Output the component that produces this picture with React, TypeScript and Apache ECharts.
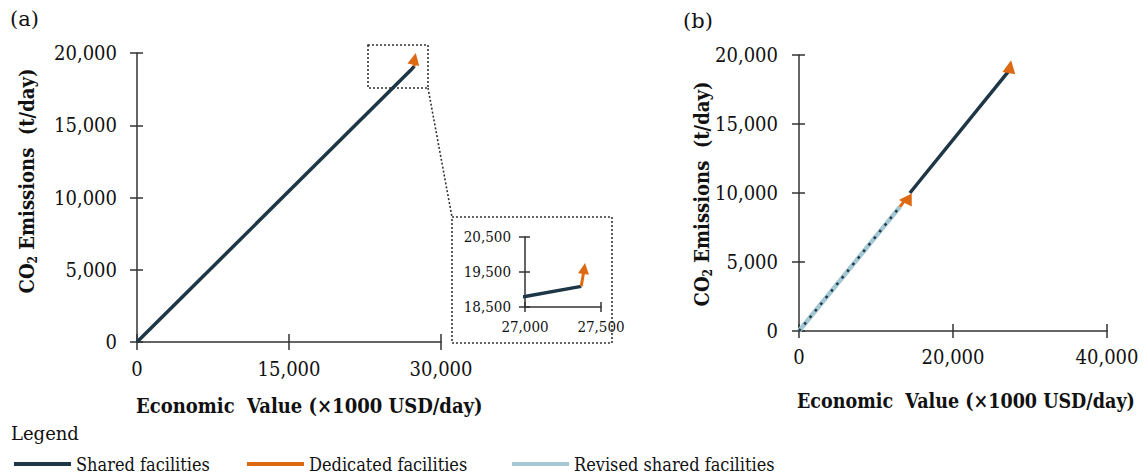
import React, { useEffect, useRef } from "react";
import * as echarts from "echarts";

const FONT = "DejaVu Serif";
const FONT_C = "DejaVu Serif Condensed";

// Panel (a) data (also used by the inset)
const sharedA: [number, number][] = [[0, 0], [27000, 18800], [27370, 19090]];
const dedicatedA: [number, number][] = [[27370, 19090], [27390, 19600]];

// Panel (b) data
const revisedB: [number, number][] = [[0, 0], [13100, 9000]];
const dedicatedB1: [number, number][] = [[13100, 9000], [13800, 9500]];
const sharedB: [number, number][] = [[14400, 10000], [27150, 18770]];
const dedicatedB2: [number, number][] = [[27150, 18770], [27400, 19150]];

// Axis ranges / ticks
const axisA_x = { min: 0, max: 30000, interval: 15000 };
const axisA_y = { min: 0, max: 20000, interval: 5000 };
const axisInset_x = { min: 27000, max: 27500, interval: 500 };
const axisInset_y = { min: 18500, max: 20500, interval: 1000 };
const axisB_x = { min: 0, max: 40000, interval: 20000 };
const axisB_y = { min: 0, max: 20000, interval: 5000 };

const legendNames = ["Shared facilities", "Dedicated facilities", "Revised shared facilities"];

const C_DARK = "#1e3646";
const C_ORANGE = "#dd6a12";
const C_LIGHT = "#a3c7d3";
const C_AXIS = "#333333";

const fmt = (v: number) => v.toLocaleString("en-US");

function mkAxis(
  grid: number,
  r: { min: number; max: number; interval: number },
  dir: "x" | "y",
  fontSize: number,
  margin: number,
  tickLen: number,
  inner: boolean
) {
  const base: any = {
    type: "value",
    gridIndex: grid,
    min: r.min,
    max: r.max,
    interval: r.interval,
    position: dir === "x" ? "bottom" : "left",
    splitLine: { show: false },
    axisLine: { show: !inner, onZero: false, lineStyle: { color: C_AXIS, width: 1.5 } },
    axisTick: { show: true, inside: inner, length: tickLen, lineStyle: { color: C_AXIS, width: 1.5 } },
    axisLabel: {
      show: !inner,
      margin,
      fontSize,
      fontFamily: FONT_C,
      color: "#111",
      formatter: fmt,
    },
  };
  return base;
}

function lineSeries(name: string, data: [number, number][], idx: number, color: string, width: number, extra: any = {}) {
  return {
    type: "line",
    name,
    xAxisIndex: idx,
    yAxisIndex: idx,
    data,
    color,
    showSymbol: false,
    symbol: "none",
    lineStyle: { color, width },
    silent: true,
    ...extra,
  };
}

function arrowSeries(data: [number, number][], idx: number, rot: number, size: number, width: number) {
  const pts = data.map((p, i) =>
    i === data.length - 1
      ? { value: p, symbol: "triangle", symbolSize: size, symbolRotate: rot }
      : { value: p, symbol: "none" }
  );
  return {
    type: "line",
    name: "Dedicated facilities",
    xAxisIndex: idx,
    yAxisIndex: idx,
    data: pts,
    color: C_ORANGE,
    showSymbol: true,
    itemStyle: { color: C_ORANGE },
    lineStyle: { color: C_ORANGE, width },
    silent: true,
    z: 5,
  };
}

export default function App() {
  const ref = useRef<HTMLDivElement>(null);
  useEffect(() => {
    if (!ref.current) return;
    const chart = echarts.init(ref.current, undefined, { renderer: "svg" });
    const titleRich = (fs: number) => ({
      a: { fontSize: fs, fontWeight: "bold", fontFamily: FONT_C, fill: "#111", lineHeight: fs + 4 },
      s: { fontSize: Math.round(fs * 0.6), fontWeight: "bold", fontFamily: FONT_C, fill: "#111", verticalAlign: "bottom", lineHeight: fs + 4, padding: [Math.round(fs * 0.45), 0, 0, 0] },
    });
    const txt = (text: string, x: number, y: number, fs: number, fam: string, extra: any = {}) => ({
      type: "text",
      x,
      y,
      style: { text, fontSize: fs, fontFamily: fam, fill: "#111", verticalAlign: "middle", ...extra },
    });
    const option: any = {
      animation: false,
      backgroundColor: "#ffffff",
      textStyle: { fontFamily: FONT_C },
      grid: [
        { left: 137, top: 53, width: 304, height: 289 },
        { left: 525, top: 237, width: 76, height: 70 },
        { left: 799, top: 55, width: 308, height: 276 },
      ],
      xAxis: [
        mkAxis(0, axisA_x, "x", 20, 17, 8, false),
        mkAxis(1, axisInset_x, "x", 15, 12, 5, false),
        mkAxis(2, axisB_x, "x", 20, 16, 7, false),
        mkAxis(0, axisA_x, "x", 20, 17, 8, true),
        mkAxis(1, axisInset_x, "x", 15, 12, 5, true),
        mkAxis(2, axisB_x, "x", 20, 16, 7, true),
      ],
      yAxis: [
        mkAxis(0, axisA_y, "y", 20, 20, 7, false),
        mkAxis(1, axisInset_y, "y", 15, 14, 6, false),
        mkAxis(2, axisB_y, "y", 20, 21, 7, false),
        mkAxis(0, axisA_y, "y", 20, 20, 6, true),
        mkAxis(1, axisInset_y, "y", 15, 14, 5, true),
        mkAxis(2, axisB_y, "y", 20, 21, 6, true),
      ],
      legend: [
        { data: [legendNames[0]], left: 14, top: 455 },
        { data: [legendNames[1]], left: 247, top: 455 },
        { data: [legendNames[2]], left: 512, top: 455 },
      ].map((l) => ({
        ...l,
        icon: "rect",
        itemWidth: 57,
        itemHeight: 4,
        padding: 0,
        selectedMode: false,
        formatter: "{t|{name}}",
        textStyle: {
          fontSize: 18,
          fontFamily: FONT_C,
          color: "#111",
          rich: { t: { fontSize: 18, fontFamily: FONT_C, color: "#111" } },
        },
      })),
      series: [
        lineSeries(legendNames[0], sharedA, 0, C_DARK, 3.5),
        arrowSeries(dedicatedA, 0, -12, 12, 3),
        lineSeries(legendNames[0], sharedA, 1, C_DARK, 3.5),
        arrowSeries(dedicatedA, 1, -8, 11, 3),
        lineSeries(legendNames[2], revisedB, 2, C_LIGHT, 4.5),
        lineSeries("revised-dots", revisedB, 2, C_DARK, 2.5, { lineStyle: { color: C_DARK, width: 2.5, type: [2.5, 6] } }),
        arrowSeries(dedicatedB1, 2, 90, 13, 3),
        lineSeries(legendNames[0], sharedB, 2, C_DARK, 3.5),
        arrowSeries(dedicatedB2, 2, -10, 13, 3),
      ],
      graphic: [
        txt("(a)", 10, 19, 21, FONT),
        txt("(b)", 683, 21, 21, FONT),
        {
          type: "text", x: 27, y: 181, rotation: Math.PI / 2,
          style: { text: "{a|CO}{s|2}{a| Emissions  (t/day)}", rich: titleRich(20), align: "center", verticalAlign: "middle" },
        },
        {
          type: "text", x: 702, y: 194, rotation: Math.PI / 2,
          style: { text: "{a|CO}{s|2}{a| Emissions  (t/day)}", rich: titleRich(20), align: "center", verticalAlign: "middle" },
        },
        txt("Economic  Value (×1000 USD/day)", 136, 406, 20, FONT_C, { fontWeight: "bold", align: "left" }),
        txt("Economic  Value (×1000 USD/day)", 797, 401, 19.5, FONT_C, { fontWeight: "bold", align: "left" }),
        txt("Legend", 11, 433, 18, FONT),
        { type: "rect", shape: { x: 368, y: 45, width: 60, height: 43 }, style: { fill: "none", stroke: C_AXIS, lineWidth: 1.6, lineDash: [2, 2] } },
        { type: "line", shape: { x1: 428, y1: 88, x2: 452, y2: 217 }, style: { stroke: C_AXIS, lineWidth: 1.6, lineDash: [2, 2] } },
        { type: "rect", shape: { x: 452, y: 217, width: 160, height: 126 }, style: { fill: "none", stroke: C_AXIS, lineWidth: 1.6, lineDash: [2, 2] } },
      ],
    };
    chart.setOption(option);
    return () => chart.dispose();
  }, []);
  return <div ref={ref} style={{ position: "absolute", left: 0, top: 0, width: 1148, height: 475 }} />;
}
